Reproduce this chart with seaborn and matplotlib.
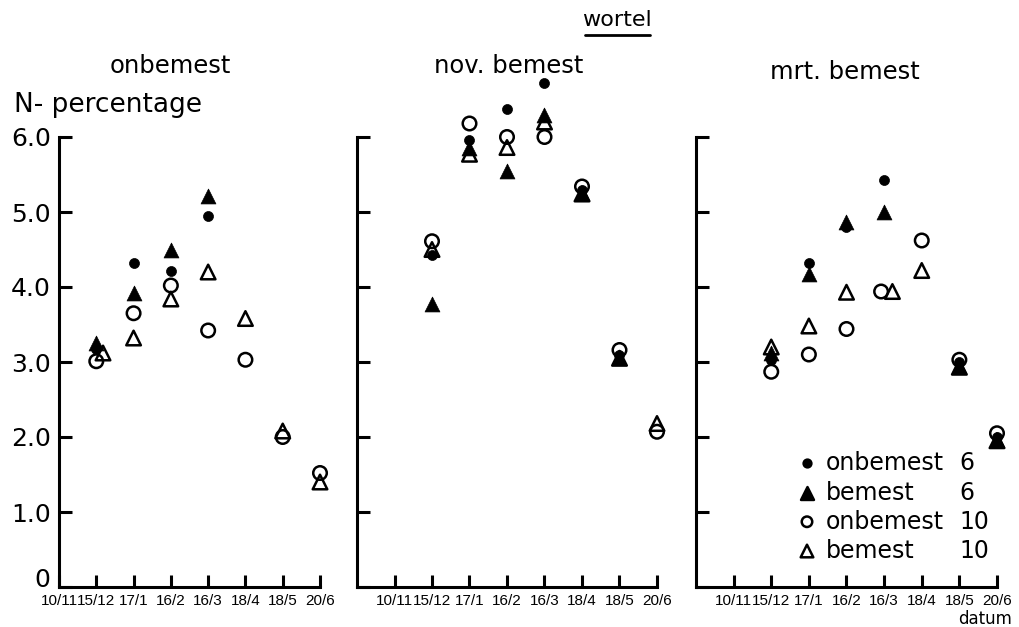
import numpy as np
import pandas as pd
import matplotlib
matplotlib.use("Agg")
import matplotlib.pyplot as plt
from matplotlib import font_manager
import seaborn as sns

nan = np.nan

# --- data -----------------------------------------------------------------
dates = ["10/11", "15/12", "17/1", "16/2", "16/3", "18/4", "18/5", "20/6"]
series_names = ["onbemest 10", "bemest 10", "bemest 6", "onbemest 6"]
panel_titles = ["onbemest", "nov. bemest", "mrt. bemest"]
y_ticks = [0, 1, 2, 3, 4, 5, 6]
y_tick_labels = ["0", "1.0", "2.0", "3.0", "4.0", "5.0", "6.0"]

# panel 1: onbemest
p1_onbemest6 = [nan, 3.18, 4.32, 4.22, 4.94, nan, nan, nan]
p1_bemest6 = [nan, 3.25, 3.92, 4.49, 5.21, nan, nan, nan]
p1_onbemest10 = [nan, 3.01, 3.65, 4.02, 3.42, 3.03, 2.00, 1.52]
p1_bemest10 = [nan, 3.12, 3.32, 3.84, 4.20, 3.58, 2.08, 1.40]

# panel 2: nov. bemest
p2_onbemest6 = [nan, 4.43, 5.96, 6.37, 6.72, 5.30, 3.10, nan]
p2_bemest6 = [nan, 3.78, 5.86, 5.55, 6.29, 5.26, 3.06, nan]
p2_onbemest10 = [nan, 4.61, 6.18, 6.00, 6.00, 5.34, 3.16, 2.07]
p2_bemest10 = [nan, 4.50, 5.77, 5.86, 6.20, 5.24, 3.05, 2.18]

# panel 3: mrt. bemest
p3_onbemest6 = [nan, 3.03, 4.32, 4.80, 5.43, nan, 3.00, 2.00]
p3_bemest6 = [nan, 3.12, 4.18, 4.87, 5.00, nan, 2.95, 1.96]
p3_onbemest10 = [nan, 2.87, 3.10, 3.44, 3.94, 4.62, 3.03, 2.05]
p3_bemest10 = [nan, 3.20, 3.48, 3.93, 3.94, 4.22, 2.93, 1.95]

panels = [
    {"onbemest 6": p1_onbemest6, "bemest 6": p1_bemest6,
     "onbemest 10": p1_onbemest10, "bemest 10": p1_bemest10},
    {"onbemest 6": p2_onbemest6, "bemest 6": p2_bemest6,
     "onbemest 10": p2_onbemest10, "bemest 10": p2_bemest10},
    {"onbemest 6": p3_onbemest6, "bemest 6": p3_bemest6,
     "onbemest 10": p3_onbemest10, "bemest 10": p3_bemest10},
]

# --- style ------------------------------------------------------------------
sns.set_style("ticks")
installed = {f.name for f in font_manager.fontManager.ttflist}
base_font = "DejaVu Sans"
tick_font = "Liberation Sans" if "Liberation Sans" in installed else "DejaVu Sans"
plt.rcParams["font.family"] = [base_font]
plt.rcParams["axes.linewidth"] = 2.2
for key in ("text.color", "axes.labelcolor", "xtick.color", "ytick.color", "axes.edgecolor"):
    plt.rcParams[key] = "black"

marker_style = {
    "onbemest 6": dict(marker="o", s=52, filled=True),
    "bemest 6": dict(marker="^", s=115, filled=True),
    "onbemest 10": dict(marker="o", s=95, filled=False),
    "bemest 10": dict(marker="^", s=110, filled=False),
}
# small horizontal nudges where symbols would sit on top of each other
nudges = {(0, "bemest 10", 1): 0.18, (2, "bemest 10", 4): 0.22, (2, "onbemest 10", 4): -0.08}

W, H = 1019, 627
fig = plt.figure(figsize=(W / 100, H / 100), dpi=100)

# axes boxes in pixels: left edge sits on the y axis, right edge a bit past the last date
y_bottom_px, y_top_px = 587, 69.5
ylim = (0, 6.9)
boxes = [
    dict(x0=0, x1=7.3, left=59, right=320 + 0.3 * 37.3),
    dict(x0=-1, x1=7.3, left=357, right=657 + 0.3 * 37.5),
    dict(x0=-1, x1=7.3, left=696, right=997 + 0.3 * 37.6),
]

axes = []
for pi, (box, data) in enumerate(zip(boxes, panels)):
    ax = fig.add_axes([box["left"] / W, (H - y_bottom_px) / H,
                       (box["right"] - box["left"]) / W,
                       (y_bottom_px - y_top_px) / H])
    axes.append(ax)
    for name in series_names:
        vals = data[name]
        pos = [i + nudges.get((pi, name, i), 0.0) for i in range(len(dates))]
        df = pd.DataFrame({"pos": pos, "value": vals}).dropna()
        st = marker_style[name]
        sns.scatterplot(data=df, x="pos", y="value", ax=ax, marker=st["marker"],
                        s=st["s"], color="black", edgecolor="black",
                        linewidth=1.8 if not st["filled"] else 0.5,
                        legend=False, clip_on=False, zorder=3)
        if not st["filled"]:
            ax.collections[-1].set_facecolor("none")

    ax.set_xlim(box["x0"], box["x1"])
    ax.set_ylim(*ylim)
    sns.despine(ax=ax)
    ax.spines["left"].set_bounds(0, 6)
    ax.spines["bottom"].set_bounds(box["x0"], 7)
    ax.set_xticks(range(len(dates)))
    ax.set_xticklabels(dates, fontsize=11, family=tick_font)
    ax.set_yticks(y_ticks)
    if pi == 0:
        ax.set_yticklabels(y_tick_labels, fontsize=18)
        # the zero label sits on the baseline, clear of the first date label
        ax.get_yticklabels()[0].set_verticalalignment("baseline")
    else:
        ax.set_yticklabels([])
    ax.tick_params(axis="both", direction="in", length=9, width=2.2, colors="black")
    ax.tick_params(axis="x", pad=5)
    ax.tick_params(axis="y", pad=6)
    ax.set_xlabel("")
    ax.set_ylabel("")

# --- titles -------------------------------------------------------------
fig.text(617 / W, 1 - 20 / H, "wortel", ha="center", va="center", fontsize=16)
fig.add_artist(plt.Line2D([585 / W, 650 / W], [1 - 35 / H, 1 - 35 / H],
                          color="black", lw=2))
title_pos = [(170, 66), (509, 66), (845, 72)]
for (tx, ty), t in zip(title_pos, panel_titles):
    fig.text(tx / W, 1 - ty / H, t, ha="center", va="center", fontsize=17.5)
fig.text(14 / W, 1 - 105 / H, "N- percentage", ha="left", va="center", fontsize=19)
fig.text(1012 / W, 1 - 619 / H, "datum", ha="right", va="center", fontsize=12)

# --- legend in the third panel -----------------------------------------
ax3 = axes[2]
legend_rows = ["onbemest 6", "bemest 6", "onbemest 10", "bemest 10"]
legend_names = ["onbemest", "bemest", "onbemest", "bemest"]
legend_nums = ["6", "6", "10", "10"]
row_y = [1.65, 1.25, 0.87, 0.48]
for name, lab, num, yy in zip(legend_rows, legend_names, legend_nums, row_y):
    st = marker_style[name]
    ax3.scatter([1.95], [yy], marker=st["marker"],
                s=st["s"] * (0.75 if st["marker"] == "^" else 0.6),
                facecolor="black" if st["filled"] else "none",
                edgecolor="black", linewidth=1.8, clip_on=False)
    ax3.text(2.45, yy, lab, ha="left", va="center", fontsize=17)
    ax3.text(6.0, yy, num, ha="left", va="center", fontsize=17)

fig.savefig("out.png", dpi=100)
